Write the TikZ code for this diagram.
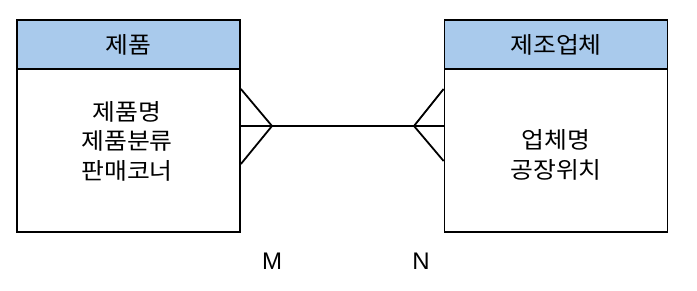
\documentclass[tikz,border=0pt]{standalone}
\usepackage{fontspec}
\setmainfont{Noto Sans CJK KR}[FakeStretch=1.08]
\newfontfamily\latinfont{Liberation Sans}
\definecolor{hdrblue}{HTML}{A9CAEC}
\begin{document}
\begin{tikzpicture}[x=1pt,y=-1pt,
  hdr/.style={draw, line width=1.8pt, fill=hdrblue, minimum width=223pt, minimum height=49pt, inner sep=0pt, font=\fontsize{23}{29.5}\selectfont},
  bodybox/.style={draw, line width=1.8pt, minimum width=223pt, minimum height=163pt, inner sep=0pt},
  txt/.style={align=center, inner sep=0pt, font=\fontsize{23}{29.5}\selectfont},
  link/.style={line width=1.8pt, line join=miter},
  card/.style={inner sep=0pt, font=\latinfont\fontsize{24}{24}\selectfont}]
\useasboundingbox (0,0) rectangle (697,291);
% left entity
\node[bodybox] (lbody) at (128.5,150.5) {};
\node[hdr] (lhead) at (128.5,44.5) {제품};
\node[txt] (ltext) at (127,141) {제품명\\제품분류\\판매코너};
% right entity
\node[bodybox] (rbody) at (556,150.5) {};
\node[hdr] (rhead) at (556,44.5) {제조업체};
\node[txt] (rtext) at (556,155) {업체명\\공장위치};
% crow's feet coordinates
\coordinate (la) at (272,126);
\coordinate (lt) at (lbody.east |- 0,89);
\coordinate (lb) at (lbody.east |- 0,164);
\coordinate (lm) at (lbody.east |- la);
\coordinate (ra) at (414,126);
\coordinate (rt) at (rbody.west |- 0,89);
\coordinate (rb) at (rbody.west |- 0,161);
\coordinate (rm) at (rbody.west |- ra);
% relationship line
\draw[link] (lm) -- (rm);
\draw[link] (lt) -- (la) -- (lb);
\draw[link] (rt) -- (ra) -- (rb);
% cardinalities
\node[card] (mlab) at (272,261) {M};
\node[card] (nlab) at (421,261) {N};
\end{tikzpicture}
\end{document}
